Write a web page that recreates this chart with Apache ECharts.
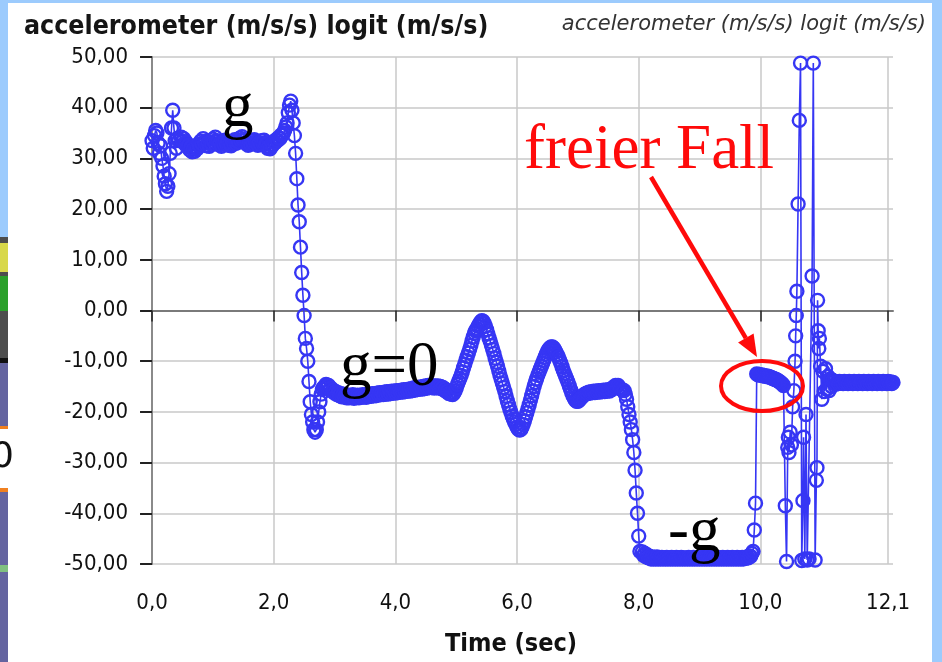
<!DOCTYPE html>
<html>
<head>
<meta charset="utf-8">
<script src="https://cdn.jsdelivr.net/npm/echarts@6/dist/echarts.min.js"></script>
<style>
  html, body { margin: 0; padding: 0; background: #fff; }
  #chart { width: 942px; height: 662px; }
</style>
</head>
<body>
<div id="chart"></div>
<script>
  // sample spacing of the uniformly read stretches (seconds)
  const FINE = 0.02;

  // tick labels
  const xTickValues = [0, 2, 4, 6, 8, 10, 12.1];
  const yMin = -50, yMax = 50, yStep = 10;

  // phases of the recording, values in m/s/s
  const wobbleStart = 0;
  const wobble = [33.5, 32.0, 34.5, 35.5, 35.0, 33.0, 31.0, 32.5, 30.0, 28.5, 26.5, 25.0,
    23.5, 24.5, 27.0, 31.0, 36.0, 39.5, 36.0, 33.5, 32.0, 34.0, 33.5];

  const gPlateauStart = 0.48;
  const gPlateau = [34.2, 33.4, 33.9, 32.9, 33.2, 32.3, 32.6, 31.7, 32.2, 31.3,
    31.8, 31.4, 32.3, 31.9, 32.8, 32.5, 33.4, 32.9, 33.9, 33.2,
    33.4, 32.5, 33.0, 32.4, 33.2, 32.9, 33.8, 33.3, 34.2, 33.5,
    33.4, 32.7, 33.0, 32.4, 33.2, 32.8, 33.6, 32.9, 33.3, 32.6,
    32.9, 32.5, 33.3, 32.9, 33.7, 33.0, 33.3, 33.2, 34.0, 33.6,
    34.3, 33.6, 33.8, 33.0, 33.3, 32.6, 33.1, 32.8, 33.5, 33.0,
    33.7, 33.1, 33.3, 32.6, 33.0, 32.8, 33.5, 33.0, 33.6, 32.8,
    32.9, 32.0, 32.3, 31.9, 32.7, 32.6, 33.3, 33.1, 33.7, 33.5,
    34.1, 33.9, 34.6, 34.6];

  const spikeDropStart = 2.16;
  const spikeDrop = [35.0, 35.5, 36.2, 37.0, 39.0, 40.5, 41.3, 39.5, 37.0, 34.5, 31.0, 26.0,
    20.8, 17.5, 12.5, 7.5, 3.0, -1.0, -5.5, -7.5, -10.0, -14.0, -18.0, -20.5, -22.0, -23.5,
    -24.0, -23.5, -22.0, -20.0, -18.0, -16.5, -15.5, -15.2];

  const zeroPlateauStart = 2.84;
  const zeroPlateau = [-15.0, -14.6, -15.1, -14.8, -15.5, -15.3, -15.9, -15.7, -16.3, -16.0,
    -16.6, -16.2, -16.8, -16.4, -17.0, -16.5, -17.0, -16.6, -17.2, -16.7,
    -17.2, -16.8, -17.1, -16.6, -17.3, -16.8, -17.1, -16.7, -17.2, -16.8,
    -17.1, -16.6, -17.0, -16.7, -17.1, -16.5, -16.9, -16.5, -16.9, -16.4,
    -16.8, -16.4, -16.8, -16.3, -16.7, -16.2, -16.6, -16.2, -16.6, -16.1,
    -16.5, -16.0, -16.5, -16.0, -16.4, -15.9, -16.3, -15.9, -16.3, -15.8,
    -16.2, -15.8, -16.1, -15.7, -16.1, -15.6, -16.0, -15.6, -15.9, -15.5,
    -15.9, -15.4, -15.8, -15.3, -15.7, -15.2, -15.6, -15.2, -15.5, -15.1,
    -15.5, -15.0, -15.4, -14.9, -15.3, -14.8, -15.2, -14.8, -15.2, -14.9,
    -15.3, -14.9, -15.2, -14.9, -15.3, -15.0, -15.4, -15.2, -15.7, -15.5,
    -16.0, -15.9, -16.4, -16.3, -16.5];

  const swingsStart = 4.94;
  const swings = [-16.6, -16.3, -15.9, -15.3, -14.6, -14.0, -13.4, -12.8, -12.1, -11.3,
    -10.6, -9.8, -9.1, -8.4, -7.7, -6.9, -6.0, -5.2, -4.5, -4.0,
    -3.6, -3.1, -2.7, -2.3, -2.0, -2.1, -2.5, -3.1, -3.8, -4.6,
    -5.4, -6.1, -6.9, -7.7, -8.5, -9.4, -10.2, -11.0, -11.9, -12.8,
    -13.6, -14.4, -15.2, -16.0, -16.9, -17.8, -18.6, -19.4, -20.1, -20.8,
    -21.4, -22.0, -22.5, -23.0, -23.4, -23.6, -23.5, -23.1, -22.5, -21.8,
    -21.0, -20.2, -19.4, -18.6, -17.7, -16.8, -15.9, -15.0, -14.2, -13.5,
    -12.8, -12.2, -11.6, -11.0, -10.4, -9.8, -9.2, -8.6, -8.1, -7.7,
    -7.4, -7.2, -7.2, -7.4, -7.8, -8.2, -8.7, -9.2, -9.8, -10.4,
    -11.1, -11.8, -12.4, -13.0, -13.6, -14.2, -14.9, -15.6, -16.2, -16.8,
    -17.3, -17.7, -17.9, -17.9, -17.7];

  const swingTailStart = 7.04;
  const swingTail = [-17.4, -17.1, -16.9, -16.6, -16.5, -16.3, -16.4, -16.1, -16.3, -16.0,
    -16.2, -15.9, -16.2, -15.9, -16.1, -15.8, -16.1, -15.8, -16.0, -15.7,
    -16.0, -15.7, -15.9, -15.6, -15.9, -15.5, -15.6, -15.2, -15.2, -14.8,
    -15.0, -14.8, -15.2, -15.4, -15.6, -15.7];

  const dropStart = 7.76;
  const dropToMinusG = [-15.8, -16.5, -17.5, -19.0, -20.5, -22.0, -23.5, -25.5, -28.0, -31.5,
    -36.0, -40.0, -44.5, -47.5];

  const minusGStart = 8.06;
  const minusG = [-47.6, -48.3, -47.9, -48.6, -48.2, -48.8, -48.5, -49.0, -48.6, -49.0,
    -48.7, -49.0, -48.6, -49.0, -48.8, -49.0, -48.7, -49.0, -48.8, -49.0,
    -48.7, -49.0, -48.8, -49.0, -48.7, -49.0, -48.8, -49.0, -48.7, -49.0,
    -48.8, -49.0, -48.7, -49.0, -48.8, -49.0, -48.8, -49.0, -48.7, -49.0,
    -48.8, -49.0, -48.7, -49.0, -48.8, -49.0, -48.7, -49.0, -48.8, -49.0,
    -48.7, -49.0, -48.8, -49.0, -48.7, -49.0, -48.8, -49.0, -48.7, -49.0,
    -48.8, -49.0, -48.7, -49.0, -48.8, -49.0, -48.7, -49.0, -48.8, -49.0,
    -48.7, -49.0, -48.8, -49.0, -48.7, -49.0, -48.8, -49.0, -48.7, -49.0,
    -48.8, -49.0, -48.7, -49.0, -48.8, -48.9, -48.6, -48.8, -48.4, -48.5,
    -47.9];

  const releaseJump = [[9.88, -47.5], [9.90, -43.3], [9.92, -38.0]];

  const freeFallStart = 9.94;
  const freeFall = [-12.5, -12.7, -12.6, -12.8, -12.7, -12.9, -12.8, -13.0, -12.9, -13.1,
    -13.0, -13.2, -13.2, -13.4, -13.4, -13.6, -13.6, -13.8, -13.9, -14.1,
    -14.3, -14.5, -14.8];

  const impact = [[10.41, -38.5], [10.43, -49.5], [10.45, -27.0], [10.46, -25.0], [10.47, -28.0],
    [10.49, -24.0], [10.51, -26.5], [10.53, -19.0], [10.55, -15.8], [10.57, -10.0],
    [10.58, -5.0], [10.59, -1.0], [10.60, 3.8], [10.62, 21.0], [10.64, 37.5], [10.66, 48.8],
    [10.68, -49.3], [10.70, -37.5], [10.71, -25.0], [10.73, -49.0], [10.75, -20.5],
    [10.77, -49.2], [10.80, -49.0], [10.85, 6.8], [10.87, 48.8], [10.90, -49.2],
    [10.92, -33.5], [10.93, -31.0], [10.94, 2.0], [10.95, -4.0], [10.96, -7.5], [10.97, -5.5],
    [10.99, -11.0], [11.01, -17.5], [11.03, -12.0], [11.05, -16.0], [11.07, -11.5],
    [11.09, -15.5], [11.11, -13.0], [11.13, -15.8], [11.15, -13.5], [11.17, -15.0],
    [11.19, -13.8]];

  const restStart = 11.22;
  const rest = [-14.0, -14.5, -14.1, -14.4, -14.0, -14.3, -14.1, -14.4, -14.0, -14.3,
    -14.1, -14.4, -14.0, -14.3, -14.1, -14.4, -14.0, -14.3, -14.1, -14.4,
    -14.0, -14.3, -14.1, -14.4, -14.0, -14.3, -14.1, -14.4, -14.0, -14.3,
    -14.1, -14.4, -14.0, -14.3, -14.1, -14.4, -14.0, -14.3, -14.1, -14.4,
    -14.0, -14.3, -14.1, -14.4, -14.0, -14.3, -14.1, -14.4, -14.2];

  function sampled(start, step, values) {
    return values.map((v, i) => [+(start + i * step).toFixed(3), v]);
  }

  const accel = [].concat(
    sampled(wobbleStart, FINE, wobble),
    sampled(gPlateauStart, FINE, gPlateau),
    sampled(spikeDropStart, FINE, spikeDrop),
    sampled(zeroPlateauStart, FINE, zeroPlateau),
    sampled(swingsStart, FINE, swings),
    sampled(swingTailStart, FINE, swingTail),
    sampled(dropStart, FINE, dropToMinusG),
    sampled(minusGStart, FINE, minusG),
    releaseJump,
    sampled(freeFallStart, FINE, freeFall),
    impact,
    sampled(restStart, FINE, rest)
  );

  const BLUE = "#3636f4";
  const RED = "#ff0a0a";
  const SKY = "#9ccbfd";
  const axisFont = '"DejaVu Sans Condensed", "DejaVu Sans", sans-serif';
  const serif = '"Liberation Serif", "DejaVu Serif", serif';

  const decimalComma = (digits) => (v) => Number(v).toFixed(digits).replace(".", ",");

  function sideStrips() {
    // slide background peeking out around the screenshot
    const bands = [
      [0, 237, SKY], [237, 121, "#4d4d4d"], [243, 29, "#d8d84a"], [276, 35, "#2aa02a"],
      [358, 5, "#111"], [363, 63, "#6464a0"], [426, 3, "#f08020"], [429, 59, "#ffffff"],
      [488, 4, "#f08020"], [492, 73, "#6464a0"], [565, 7, "#80c080"], [572, 90, "#6464a0"]
    ];
    const items = bands.map(([y, h, c]) => ({
      type: "rect", shape: { x: 0, y, width: 8, height: h }, style: { fill: c }, silent: true
    }));
    items.push({ type: "rect", shape: { x: 0, y: 0, width: 942, height: 3 }, style: { fill: SKY }, silent: true });
    items.push({ type: "rect", shape: { x: 932, y: 0, width: 10, height: 662 }, style: { fill: SKY }, silent: true });
    items.push({ type: "text", style: { text: "0", x: -9, y: 458, font: '36px "DejaVu Sans"', fill: "#111", verticalAlign: "middle" }, silent: true });
    return items;
  }

  function annotations() {
    const label = (text, x, y, fill) => ({
      type: "text", silent: true, z: 100,
      style: { text, x, y, fill, font: "63px " + serif, verticalAlign: "middle" }
    });
    // arrow from the label down to the free-fall plateau
    const tip = [757, 357], from = [651, 177];
    const dx = tip[0] - from[0], dy = tip[1] - from[1];
    const len = Math.hypot(dx, dy), ux = dx / len, uy = dy / len;
    const base = [tip[0] - 22 * ux, tip[1] - 22 * uy];
    const px = -uy * 9, py = ux * 9;
    return [
      label("g", 222, 109, "#000"),
      label("g=0", 340, 368, "#000"),
      label("-g", 668, 533, "#000"),
      label("freier Fall", 524, 151, RED),
      { type: "line", silent: true, z: 100,
        shape: { x1: from[0], y1: from[1], x2: base[0], y2: base[1] },
        style: { stroke: RED, lineWidth: 4.5 } },
      { type: "polygon", silent: true, z: 100,
        shape: { points: [tip, [base[0] + px, base[1] + py], [base[0] - px, base[1] - py]] },
        style: { fill: RED } },
      { type: "ellipse", silent: true, z: 100,
        shape: { cx: 762, cy: 386, rx: 41, ry: 25 },
        style: { stroke: RED, lineWidth: 4, fill: null } }
    ];
  }

  const chart = echarts.init(document.getElementById("chart"));
  chart.setOption({
    animation: false,
    backgroundColor: "#fff",
    title: [
      { text: "accelerometer (m/s/s) logit (m/s/s)", left: 24, top: 14, padding: 0,
        textStyle: { fontFamily: axisFont, fontWeight: "bold", fontSize: 26.5, color: "#151515" } },
      { text: "accelerometer (m/s/s) logit (m/s/s)", right: 16, top: 14, padding: 0,
        textStyle: { fontFamily: '"DejaVu Sans", sans-serif', fontStyle: "italic", fontWeight: "normal", fontSize: 21, color: "#333" } }
    ],
    grid: { left: 149, right: 49, top: 57, bottom: 97 },
    xAxis: [
      {
        type: "value", min: -0.05, max: 12.18, position: "bottom", offset: 7,
        axisLine: { show: false },
        axisTick: { customValues: xTickValues, length: 11, lineStyle: { color: "#222", width: 1.5 } },
        axisLabel: { customValues: xTickValues, formatter: decimalComma(1), margin: 21,
          fontFamily: axisFont, fontSize: 22, color: "#111" },
        splitLine: { show: true, lineStyle: { color: "#c9c9c9", width: 1.5 } },
        name: "Time (sec)", nameLocation: "middle", nameGap: 61,
        nameTextStyle: { fontFamily: axisFont, fontWeight: "bold", fontSize: 25, color: "#111", padding: [0, 20, 0, 0] }
      },
      {
        type: "value", min: -0.05, max: 12.18, position: "top",
        axisLine: { show: true, lineStyle: { color: "#7a7a7a", width: 2 } },
        axisTick: { show: false }, axisLabel: { show: false }, splitLine: { show: false }
      }
    ],
    yAxis: [
      {
        type: "value", min: yMin, max: yMax, interval: yStep, offset: 5,
        axisLine: { show: false },
        axisTick: { length: 12, lineStyle: { color: "#222", width: 2 } },
        axisLabel: { formatter: decimalComma(2), margin: 16, fontFamily: axisFont, fontSize: 22, color: "#111" },
        splitLine: { show: true, lineStyle: { color: "#c9c9c9", width: 1.5 } }
      },
      {
        type: "value", min: yMin, max: yMax, interval: yStep,
        axisLine: { show: true, lineStyle: { color: "#8a8a8a", width: 2 } },
        axisTick: { show: false }, axisLabel: { show: false }, splitLine: { show: false }
      }
    ],
    series: [{
      type: "line",
      data: accel,
      xAxisIndex: 0, yAxisIndex: 0,
      symbol: "circle", symbolSize: 13, showAllSymbol: true, clip: false,
      itemStyle: { color: "rgba(0,0,0,0)", borderColor: BLUE, borderWidth: 2.4 },
      lineStyle: { color: BLUE, width: 1.6 },
      emphasis: { disabled: true }
    }],
    graphic: sideStrips().concat(annotations())
  });
</script>
</body>
</html>
